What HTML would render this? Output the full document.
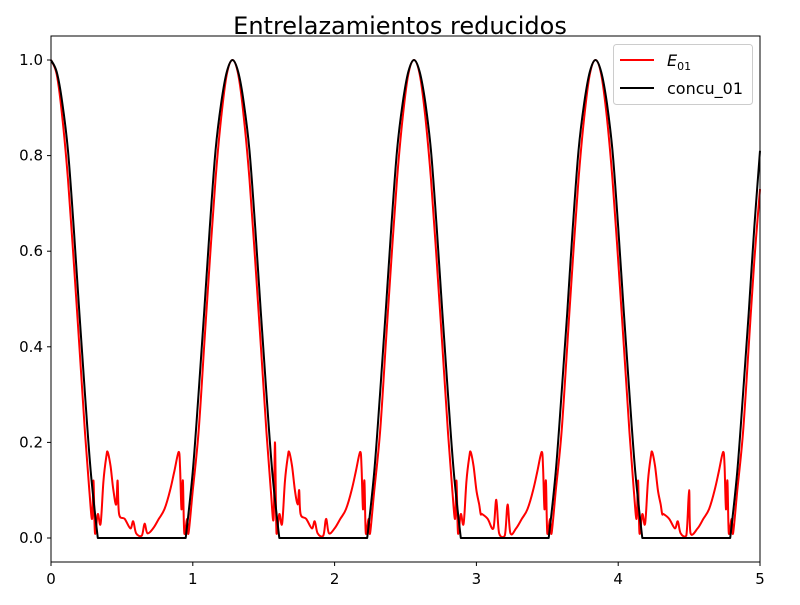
<!DOCTYPE html>
<html><head><meta charset="utf-8"><style>
body{margin:0;background:#fff;font-family:"Liberation Sans","DejaVu Sans",sans-serif}
</style></head><body>
<svg id="chart" width="800" height="600" xmlns="http://www.w3.org/2000/svg">
<rect width="800" height="600" fill="#fff"/>
<text x="400" y="34" text-anchor="middle" font-size="24" font-family="DejaVu Sans, Liberation Sans, sans-serif">Entrelazamientos reducidos</text>
<g id="plot"></g>
<rect x="51" y="36" width="709" height="526" fill="none" stroke="#000" stroke-width="1"/>
<g id="axes" font-size="15" font-family="DejaVu Sans, Liberation Sans, sans-serif"></g>
<g>
<rect x="613.5" y="44.5" width="139" height="60" rx="3" fill="#fff" fill-opacity="0.8" stroke="#ccc"/>
<line x1="620" y1="60" x2="654" y2="60" stroke="red" stroke-width="2"/>
<text x="667" y="66" font-size="16" font-family="DejaVu Sans, sans-serif"><tspan font-style="italic">E</tspan><tspan font-size="11" dy="4">01</tspan></text>
<line x1="620" y1="88" x2="654" y2="88" stroke="#000" stroke-width="2"/>
<text x="667" y="94" font-size="16" font-family="DejaVu Sans, sans-serif">concu_01</text>
</g>
</svg>
<script>
const xTicks=[0,1,2,3,4,5];
const yTicks=[0.0,0.2,0.4,0.6,0.8,1.0];
const concuT=[0,.04,.08,.12,.16,.2,.24,.28,.33,.95,1.0,1.04,1.08,1.12,1.16,1.2,1.24,1.28,1.32,1.36,1.4,1.44,1.48,1.52,1.56,1.61,2.23,2.28,2.32,2.36,2.4,2.44,2.48,2.52,2.56,2.6,2.64,2.68,2.72,2.76,2.8,2.84,2.89,3.51,3.56,3.6,3.64,3.68,3.72,3.76,3.8,3.84,3.88,3.92,3.96,4.0,4.04,4.08,4.12,4.17,4.79,4.84,4.88,4.92,4.96,5.0];
const concuV=[1,.975,.91,.81,.65,.47,.3,.14,0,0,.14,.3,.47,.65,.81,.91,.975,1,.975,.91,.81,.65,.47,.3,.14,0,0,.14,.3,.47,.65,.81,.91,.975,1,.975,.91,.81,.65,.47,.3,.14,0,0,.14,.3,.47,.65,.81,.91,.975,1,.975,.91,.81,.65,.47,.3,.14,0,0,.14,.3,.47,.65,.81];
const eT=[0,.04,.08,.12,.16,.2,.24,.27,.29,.3,.31,.33,.35,.37,.39,.4,.42,.44,.46,.47,.48,.52,.56,.58,.6,.64,.66,.68,.72,.76,.8,.84,.87,.9,.91,.92,.93,.94,.96,.97,1.0,1.04,1.08,1.12,1.16,1.2,1.24,1.28,
1.32,1.36,1.4,1.44,1.48,1.52,1.55,1.57,1.58,1.59,1.61,1.63,1.65,1.67,1.68,1.7,1.72,1.74,1.75,1.76,1.8,1.84,1.86,1.88,1.92,1.94,1.96,2.0,2.04,2.08,2.12,2.15,2.18,2.19,2.2,2.21,2.22,2.24,2.25,2.28,2.32,2.36,2.4,2.44,2.48,2.52,2.56,
2.6,2.64,2.68,2.72,2.76,2.8,2.83,2.85,2.86,2.87,2.89,2.91,2.93,2.95,2.96,2.98,3.0,3.02,3.03,3.04,3.08,3.12,3.14,3.16,3.2,3.22,3.24,3.28,3.32,3.36,3.4,3.43,3.46,3.47,3.48,3.49,3.5,3.52,3.53,3.56,3.6,3.64,3.68,3.72,3.76,3.8,3.84,
3.88,3.92,3.96,4.0,4.04,4.08,4.11,4.13,4.14,4.15,4.17,4.19,4.21,4.23,4.24,4.26,4.28,4.3,4.31,4.32,4.36,4.4,4.42,4.44,4.48,4.5,4.51,4.56,4.6,4.64,4.68,4.71,4.74,4.75,4.76,4.77,4.78,4.8,4.81,4.84,4.88,4.92,4.96,5.0];
const eV=[1,.97,.88,.75,.58,.4,.22,.1,.04,.12,.01,.05,.03,.12,.17,.18,.15,.1,.07,.12,.05,.04,.02,.035,.01,.005,.03,.01,.02,.04,.06,.1,.14,.18,.15,.06,.12,.01,.04,.01,.1,.22,.4,.58,.75,.88,.97,1,
.97,.88,.75,.58,.4,.22,.1,.04,.2,.01,.05,.03,.12,.17,.18,.15,.1,.07,.1,.05,.04,.02,.035,.01,.005,.04,.01,.02,.04,.06,.1,.14,.18,.15,.06,.12,.01,.04,.01,.1,.22,.4,.58,.75,.88,.97,1,
.97,.88,.75,.58,.4,.22,.1,.04,.12,.01,.05,.03,.12,.17,.18,.15,.1,.07,.05,.05,.04,.02,.08,.01,.005,.07,.01,.02,.04,.06,.1,.14,.18,.15,.06,.12,.01,.04,.01,.1,.22,.4,.58,.75,.88,.97,1,
.97,.88,.75,.58,.4,.22,.1,.04,.12,.01,.05,.03,.12,.17,.18,.15,.1,.07,.05,.05,.04,.02,.035,.01,.005,.1,.01,.02,.04,.06,.1,.14,.18,.15,.06,.12,.01,.04,.01,.1,.22,.4,.58,.73];
const NS="http://www.w3.org/2000/svg";
const xS=t=>51+t*141.8, yS=v=>538-v*478;
const plot=document.getElementById('plot'), axes=document.getElementById('axes');
function smoothPath(T,V){
  const P=T.map((t,i)=>[xS(t),yS(V[i])]);
  let d='M'+P[0][0].toFixed(1)+','+P[0][1].toFixed(1);
  for(let i=0;i<P.length-1;i++){
    const p0=P[Math.max(0,i-1)],p1=P[i],p2=P[i+1],p3=P[Math.min(P.length-1,i+2)];
    const flat=(V[i]===0&&V[i+1]===0);
    if(flat){d+=' L'+p2[0].toFixed(1)+','+p2[1].toFixed(1);continue;}
    let c1=[p1[0]+(p2[0]-p0[0])/6,p1[1]+(p2[1]-p0[1])/6];
    let c2=[p2[0]-(p3[0]-p1[0])/6,p2[1]-(p3[1]-p1[1])/6];
    const yb=yS(0);
    c1[1]=Math.min(c1[1],yb);c2[1]=Math.min(c2[1],yb);
    if(V[i]===0)c1=[p1[0],p1[1]];
    if(V[i+1]===0)c2=[p2[0],p2[1]];
    d+=' C'+c1[0].toFixed(1)+','+c1[1].toFixed(1)+' '+c2[0].toFixed(1)+','+c2[1].toFixed(1)+' '+p2[0].toFixed(1)+','+p2[1].toFixed(1);
  }
  return d;
}
function line(T,V,color,name){
  const p=document.createElementNS(NS,'path');
  p.setAttribute('d',smoothPath(T,V));
  p.setAttribute('fill','none');p.setAttribute('stroke',color);p.setAttribute('stroke-width','2');p.setAttribute('stroke-linejoin','round');
  
  
  plot.appendChild(p);
}
line(eT,eV,'red','series-e01');
line(concuT,concuV,'#000','series-concu-01');
xTicks.forEach(t=>{
  const l=document.createElementNS(NS,'line');
  l.setAttribute('x1',xS(t));l.setAttribute('x2',xS(t));l.setAttribute('y1',562);l.setAttribute('y2',566);l.setAttribute('stroke','#000');
  
  
  axes.appendChild(l);
  const tx=document.createElementNS(NS,'text');
  tx.setAttribute('x',xS(t));tx.setAttribute('y',584);tx.setAttribute('text-anchor','middle');tx.textContent=t;
  
  
  axes.appendChild(tx);
});
yTicks.forEach(v=>{
  const l=document.createElementNS(NS,'line');
  l.setAttribute('x1',47);l.setAttribute('x2',51);l.setAttribute('y1',yS(v));l.setAttribute('y2',yS(v));l.setAttribute('stroke','#000');
  
  
  axes.appendChild(l);
  const tx=document.createElementNS(NS,'text');
  tx.setAttribute('x',43);tx.setAttribute('y',yS(v)+5);tx.setAttribute('text-anchor','end');tx.textContent=v.toFixed(1);
  
  
  axes.appendChild(tx);
});
</script>
</body></html>
